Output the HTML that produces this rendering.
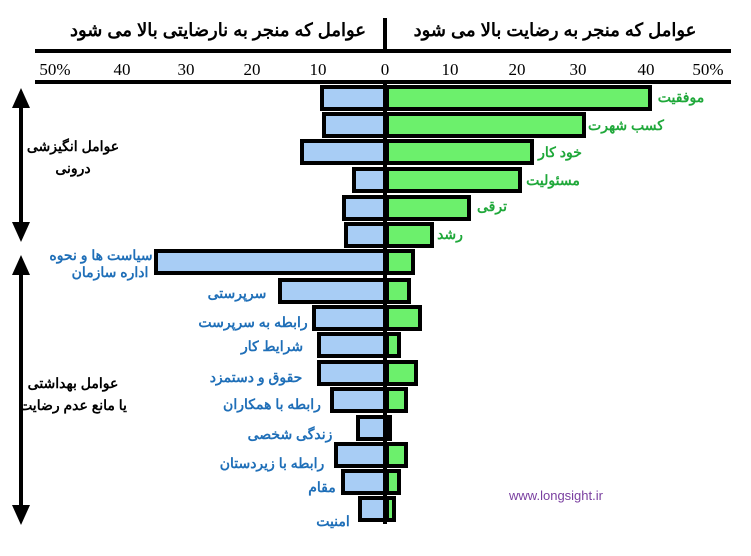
<!DOCTYPE html>
<html><head><meta charset="utf-8"><style>
html,body{margin:0;padding:0;background:#fff;}
svg{display:block;}
.t{font-family:"Liberation Sans","Noto Sans CJK SC",sans-serif;font-weight:bold;}
.g{fill:#1fa83a;font-size:14px;}
.b{fill:#1f6fb8;font-size:14px;}
.k{fill:#000;font-size:14px;}
.n{font-family:"Liberation Serif",serif;font-size:17px;fill:#000;}
</style></head><body>
<svg width="751" height="556" viewBox="0 0 751 556" xmlns="http://www.w3.org/2000/svg">
<text class="t" x="555" y="36" text-anchor="middle" font-size="18" fill="#000">عوامل که منجر به رضایت بالا می شود</text>
<text class="t" x="218" y="36" text-anchor="middle" font-size="18" fill="#000">عوامل که منجر به نارضایتی بالا می شود</text>
<rect x="383" y="18" width="4" height="34" fill="#000"/>
<rect x="35" y="49" width="696" height="4" fill="#000"/>
<rect x="35" y="80" width="696" height="4" fill="#000"/>
<g class="n" text-anchor="middle">
<text x="55" y="75">50%</text><text x="122" y="75">40</text><text x="186" y="75">30</text><text x="252" y="75">20</text><text x="318" y="75">10</text><text x="385" y="75">0</text>
<text x="450" y="75">10</text><text x="517" y="75">20</text><text x="578" y="75">30</text><text x="646" y="75">40</text><text x="708" y="75">50%</text>
</g>
<g stroke="#000" stroke-width="4">
<rect x="322" y="87" width="63" height="22" fill="#a8cdf5"/><rect x="387" y="87" width="263" height="22" fill="#6cf06c"/>
<rect x="324" y="114" width="61" height="22" fill="#a8cdf5"/><rect x="387" y="114" width="197" height="22" fill="#6cf06c"/>
<rect x="302" y="141" width="83" height="22" fill="#a8cdf5"/><rect x="387" y="141" width="145" height="22" fill="#6cf06c"/>
<rect x="354" y="169" width="31" height="22" fill="#a8cdf5"/><rect x="387" y="169" width="133" height="22" fill="#6cf06c"/>
<rect x="344" y="197" width="41" height="22" fill="#a8cdf5"/><rect x="387" y="197" width="82" height="22" fill="#6cf06c"/>
<rect x="346" y="224" width="39" height="22" fill="#a8cdf5"/><rect x="387" y="224" width="45" height="22" fill="#6cf06c"/>
<rect x="156" y="251" width="229" height="22" fill="#a8cdf5"/><rect x="387" y="251" width="26" height="22" fill="#6cf06c"/>
<rect x="280" y="280" width="105" height="22" fill="#a8cdf5"/><rect x="387" y="280" width="22" height="22" fill="#6cf06c"/>
<rect x="314" y="307" width="71" height="22" fill="#a8cdf5"/><rect x="387" y="307" width="33" height="22" fill="#6cf06c"/>
<rect x="319" y="334" width="66" height="22" fill="#a8cdf5"/><rect x="387" y="334" width="12" height="22" fill="#6cf06c"/>
<rect x="319" y="362" width="66" height="22" fill="#a8cdf5"/><rect x="387" y="362" width="29" height="22" fill="#6cf06c"/>
<rect x="332" y="389" width="53" height="22" fill="#a8cdf5"/><rect x="387" y="389" width="19" height="22" fill="#6cf06c"/>
<rect x="358" y="417" width="27" height="22" fill="#a8cdf5"/><rect x="387" y="417" width="3" height="22" fill="#6cf06c"/>
<rect x="336" y="444" width="49" height="22" fill="#a8cdf5"/><rect x="387" y="444" width="19" height="22" fill="#6cf06c"/>
<rect x="343" y="471" width="42" height="22" fill="#a8cdf5"/><rect x="387" y="471" width="12" height="22" fill="#6cf06c"/>
<rect x="360" y="498" width="25" height="22" fill="#a8cdf5"/><rect x="387" y="498" width="7" height="22" fill="#6cf06c"/>
</g>
<rect x="383" y="84" width="4" height="440" fill="#000"/>
<g class="t g" text-anchor="middle">
<text x="681" y="102">موفقیت</text><text x="626" y="130">کسب شهرت</text><text x="560" y="157">خود کار</text>
<text x="553" y="185">مسئولیت</text><text x="492" y="211">ترقی</text><text x="450" y="239">رشد</text>
</g>
<g class="t b" text-anchor="middle">
<text x="101" y="260">سیاست ها و نحوه</text><text x="110" y="277">اداره سازمان</text>
<text x="237" y="298">سرپرستی</text><text x="253" y="327">رابطه به سرپرست</text><text x="272" y="351">شرایط کار</text>
<text x="256" y="382">حقوق و دستمزد</text><text x="272" y="409">رابطه با همکاران</text><text x="290" y="439">زندگی شخصی</text>
<text x="272" y="468">رابطه با زیردستان</text><text x="322" y="492">مقام</text><text x="333" y="526">امنیت</text>
</g>
<g class="t k" text-anchor="middle">
<text x="73" y="151">عوامل انگیزشی</text><text x="73" y="173">درونی</text>
<text x="73" y="388">عوامل بهداشتی</text><text x="73" y="410">یا مانع عدم رضایت</text>
</g>
<g fill="#000">
<rect x="19" y="100" width="4" height="130"/>
<polygon points="21,88 12,108 30,108"/><polygon points="21,242 12,222 30,222"/>
<rect x="19" y="266" width="4" height="248"/>
<polygon points="21,255 12,275 30,275"/><polygon points="21,525 12,505 30,505"/>
</g>
<text x="556" y="500" text-anchor="middle" font-family="Liberation Sans,sans-serif" font-size="13" fill="#7a3fa0">www.longsight.ir</text>
</svg>
</body></html>
